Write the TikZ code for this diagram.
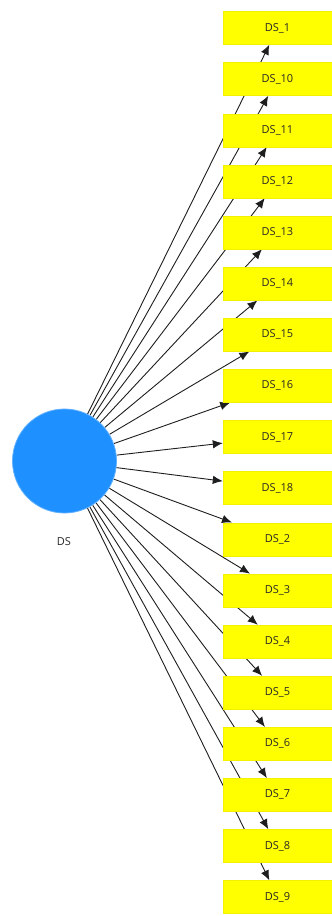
\documentclass[tikz,border=0pt]{standalone}
\usepackage{fontspec}
\setmainfont{Open Sans}
\usetikzlibrary{arrows.meta}
\pgfdeclarelayer{background}
\pgfsetlayers{background,main}
\definecolor{hubblue}{RGB}{30,144,255}
\definecolor{boxyellow}{RGB}{255,255,0}
\definecolor{edgegray}{RGB}{30,30,30}
\definecolor{txt}{RGB}{40,40,40}
\tikzset{
  hub/.style={circle, fill=hubblue, draw=hubblue!70!white, line width=0.8pt, minimum size=104pt, inner sep=0pt},
  dsbox/.style={rectangle, fill=boxyellow, draw=boxyellow!95!black, line width=0.4pt, minimum width=109pt, minimum height=33pt, inner sep=0pt, font=\fontsize{11pt}{12pt}\selectfont, text=txt},
  lbl/.style={font=\fontsize{11pt}{12pt}\selectfont, text=txt},
  edge/.style={draw=edgegray, line width=0.9pt, -{Latex[length=10pt,width=8.5pt]}}
}
\begin{document}
\begin{tikzpicture}[x=1pt,y=-1pt]
\useasboundingbox (0,0) rectangle (332,916);
\node[hub] (DS) at (64.5,461) {};
\node[lbl] (DSlabel) at (64,542) {DS};
\foreach \n [count=\i] in {1,10,11,12,13,14,15,16,17,18,2,3,4,5,6,7,8,9} {
  \node[dsbox] (b\i) at (277.5,{28+51.12*(\i-1)}) {DS\_\n};
}
\begin{pgfonlayer}{background}
\foreach \i in {1,...,18} {
  \draw[edge] (DS) -- (b\i);
}
\end{pgfonlayer}
\end{tikzpicture}
\end{document}
